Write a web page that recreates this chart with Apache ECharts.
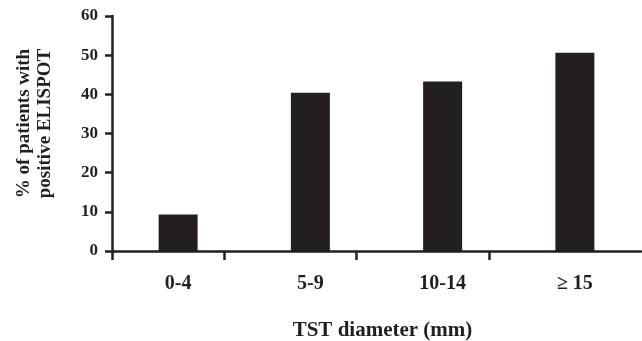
<!DOCTYPE html>
<html>
<head>
<meta charset="utf-8">
<script src="https://cdn.jsdelivr.net/npm/echarts@6/dist/echarts.min.js"></script>
<style>
  html, body { margin: 0; padding: 0; background: #fff; }
  #chart { width: 642px; height: 341px; }
</style>
</head>
<body>
<div id="chart"></div>
<script>
// TST size groups and share of patients with a positive ELISPOT (%)
const categories = ['0-4', '5-9', '10-14', '≥ 15'];
const positivePct = [9.3, 40.4, 43.3, 50.6];
const yTicks = { min: 0, max: 60, step: 10 };

const ink = '#231f20';
const serif = '"Liberation Serif", "Times New Roman", serif';

const chart = echarts.init(document.getElementById('chart'));

const option = {
    animation: false,
    grid: { left: 112, right: 1, top: 16, bottom: 90, containLabel: false, outerBoundsMode: 'none' },
    xAxis: [
        {
            type: 'category',
            data: categories,
            axisLine: { lineStyle: { color: ink, width: 2.5 } },
            axisTick: { show: false },
            axisLabel: {
                color: ink, fontFamily: serif, fontWeight: 'bold', fontSize: 20, margin: 23
            },
            name: 'TST diameter (mm)',
            nameLocation: 'middle',
            nameGap: 69,
            nameTextStyle: {
                color: ink, fontFamily: serif, fontWeight: 'bold', fontSize: 21,
                padding: [0, 0, 0, 12]
            }
        },
        {
            // only carries the tick marks, which sit off the category boundaries
            type: 'value',
            position: 'bottom',
            min: 0,
            max: 4,
            axisLine: { show: false },
            axisLabel: { show: false },
            splitLine: { show: false },
            axisTick: {
                show: true,
                length: 9,
                lineStyle: { color: ink, width: 2.5 },
                customValues: [0, 0.85, 1.85, 2.85]
            }
        }
    ],
    yAxis: {
        type: 'value',
        min: yTicks.min,
        max: yTicks.max,
        interval: yTicks.step,
        axisLine: { show: true, lineStyle: { color: ink, width: 2.5 } },
        axisTick: { show: true, length: 7, lineStyle: { color: ink, width: 2.5 } },
        splitLine: { show: false },
        axisLabel: {
            color: ink, fontFamily: serif, fontWeight: 'bold', fontSize: 17, margin: 14
        },
        name: '% of patients with\npositive ELISPOT',
        nameLocation: 'middle',
        nameGap: 56,
        nameRotate: 90,
        nameTextStyle: {
            color: ink, fontFamily: serif, fontWeight: 'bold', fontSize: 19,
            lineHeight: 21, padding: [0, 0, 0, 20]
        }
    },
    series: [
        {
            type: 'bar',
            xAxisIndex: 0,
            data: positivePct,
            barWidth: 39,
            itemStyle: { color: ink }
        }
    ]
};

chart.setOption(option);
</script>
</body>
</html>
